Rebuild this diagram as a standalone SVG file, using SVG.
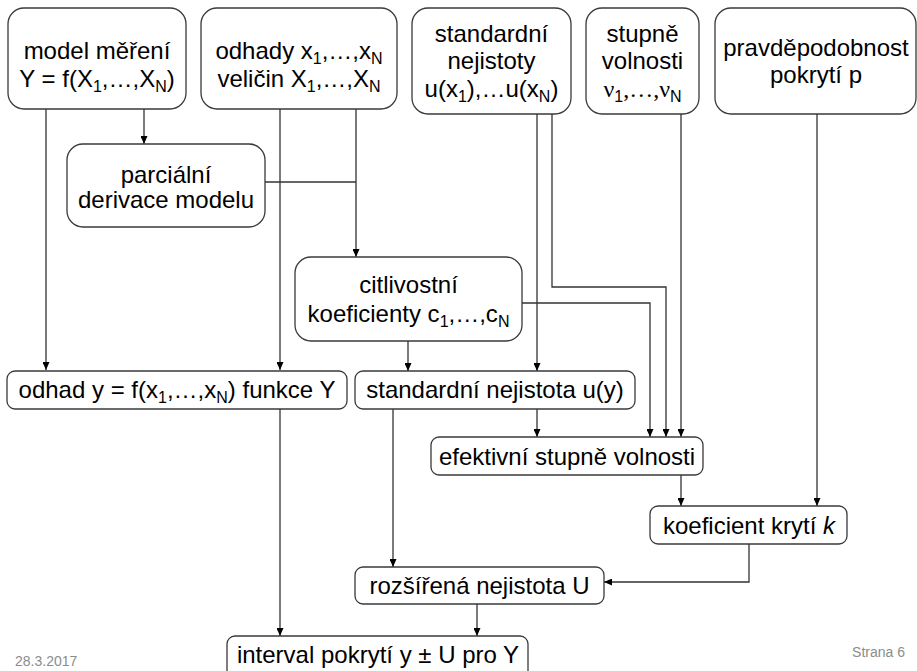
<svg xmlns="http://www.w3.org/2000/svg" width="917" height="671" viewBox="0 0 917 671">
<style>
.box{fill:#fff;stroke:#3a3a3a;stroke-width:1.3}
.t{font-family:"Liberation Sans",Arial,sans-serif;font-size:24px;text-anchor:middle;fill:#000}
.s{font-size:16px}
.g{font-family:"Liberation Serif","Times New Roman",serif}
.c{fill:none;stroke:#333;stroke-width:1.3}
.a{marker-end:url(#ah)}
.f{font-family:"Liberation Sans",Arial,sans-serif;font-size:14px;fill:#8c8c8c}
</style>
<defs>
<marker id="ah" viewBox="0 0 8 7" refX="8" refY="3.5" markerWidth="8" markerHeight="7" markerUnits="userSpaceOnUse" orient="auto">
<path d="M0,0 L8,3.5 L0,7 z" fill="#000"/>
</marker>
</defs>
<rect width="917" height="671" fill="#fff"/>

<g id="connectors">
<path class="c a" d="M46,109 V370"/>
<path class="c a" d="M144,109 V144"/>
<path class="c a" d="M280,109 V370"/>
<path class="c a" d="M356,109 V257"/>
<path class="c" d="M265,182 H356"/>
<path class="c a" d="M408,341 V371"/>
<path class="c a" d="M522,303 H650 V437"/>
<path class="c a" d="M537,114 V371"/>
<path class="c a" d="M552,114 V287 H666 V437"/>
<path class="c a" d="M681,114 V437"/>
<path class="c a" d="M537,409 V437"/>
<path class="c a" d="M393,409 V567"/>
<path class="c a" d="M681,475 V506"/>
<path class="c a" d="M817,114 V506"/>
<path class="c a" d="M749,544 V582 H604"/>
<path class="c a" d="M280,409 V636"/>
<path class="c a" d="M477,604 V636"/>
</g>

<g id="model">
<rect class="box" x="8" y="8" width="178" height="101" rx="16"/>
<text class="t" x="97" y="59">model měření</text>
<text class="t" x="97" y="87">Y = f(X<tspan class="s" dy="5">1</tspan><tspan dy="-5">,…,X</tspan><tspan class="s" dy="5">N</tspan><tspan dy="-5">)</tspan></text>
</g>

<g id="odhady">
<rect class="box" x="201" y="8" width="196" height="101" rx="16"/>
<text class="t" x="299" y="59">odhady x<tspan class="s" dy="5">1</tspan><tspan dy="-5">,…,x</tspan><tspan class="s" dy="5">N</tspan></text>
<text class="t" x="299" y="87">veličin X<tspan class="s" dy="5">1</tspan><tspan dy="-5">,…,X</tspan><tspan class="s" dy="5">N</tspan></text>
</g>

<g id="std-nejistoty">
<rect class="box" x="412" y="8" width="159" height="106" rx="16"/>
<text class="t" x="491.5" y="42">standardní</text>
<text class="t" x="491.5" y="69">nejistoty</text>
<text class="t" x="491.5" y="97">u(x<tspan class="s" dy="5">1</tspan><tspan dy="-5">),…u(x</tspan><tspan class="s" dy="5">N</tspan><tspan dy="-5">)</tspan></text>
</g>

<g id="stupne">
<rect class="box" x="586" y="8" width="113" height="106" rx="16"/>
<text class="t" x="642.5" y="42">stupně</text>
<text class="t" x="642.5" y="69">volnosti</text>
<text class="t" x="642.5" y="97"><tspan class="g">ν</tspan><tspan class="s" dy="5">1</tspan><tspan class="g" dy="-5">,…,ν</tspan><tspan class="s" dy="5">N</tspan></text>
</g>

<g id="pravdepodobnost">
<rect class="box" x="715" y="8" width="201" height="106" rx="16"/>
<text class="t" x="816" y="56">pravděpodobnost</text>
<text class="t" x="816" y="83">pokrytí p</text>
</g>

<g id="parcialni">
<rect class="box" x="67" y="144" width="198" height="83" rx="16"/>
<text class="t" x="166" y="183">parciální</text>
<text class="t" x="166" y="208">derivace modelu</text>
</g>

<g id="citlivostni">
<rect class="box" x="295" y="257" width="227" height="84" rx="16"/>
<text class="t" x="408.5" y="293">citlivostní</text>
<text class="t" x="408.5" y="322">koeficienty c<tspan class="s" dy="5">1</tspan><tspan dy="-5">,…,c</tspan><tspan class="s" dy="5">N</tspan></text>
</g>

<g id="odhad-y">
<rect class="box" x="7" y="371" width="340" height="38" rx="8"/>
<text class="t" x="177" y="398">odhad y = f(x<tspan class="s" dy="5">1</tspan><tspan dy="-5">,…,x</tspan><tspan class="s" dy="5">N</tspan><tspan dy="-5">) funkce Y</tspan></text>
</g>

<g id="std-nejistota-uy">
<rect class="box" x="355" y="371" width="280" height="38" rx="8"/>
<text class="t" x="495" y="398">standardní nejistota u(y)</text>
</g>

<g id="efektivni">
<rect class="box" x="431" y="437" width="272" height="38" rx="8"/>
<text class="t" x="567" y="465">efektivní stupně volnosti</text>
</g>

<g id="koeficient">
<rect class="box" x="650" y="506" width="197" height="38" rx="8"/>
<text class="t" x="749" y="534">koeficient krytí <tspan font-style="italic">k</tspan></text>
</g>

<g id="rozsirena">
<rect class="box" x="355" y="567" width="249" height="37" rx="8"/>
<text class="t" x="479.5" y="594">rozšířená nejistota U</text>
</g>

<g id="interval">
<rect class="box" x="227" y="636" width="301" height="50" rx="8"/>
<text class="t" x="378" y="663">interval pokrytí y ± U pro Y</text>
</g>

<text class="f" x="15" y="666">28.3.2017</text>
<text class="f" x="905" y="657" text-anchor="end">Strana 6</text>
</svg>
